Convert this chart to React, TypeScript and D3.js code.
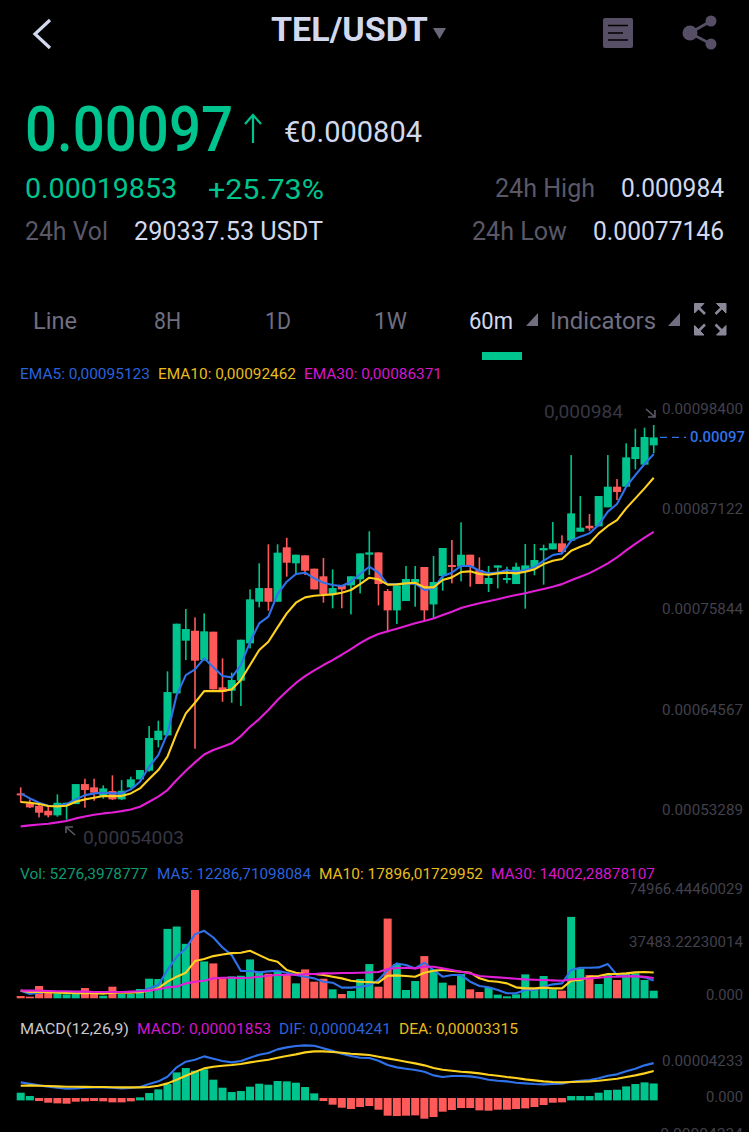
import React from "react";
import * as d3 from "d3";

// All prices in units of 1e-6 USDT
const opens = [
  569.6,558.4,555.7,550.1,544.9,556.5,557.6,580.1,576.4,565.9,
  572.2,562.9,576.4,585.4,595.1,629.6,634.9,682.1,741.4,752.6,
  719.6,751.5,688.9,685.1,696.4,738.4,785.2,800.6,785.2,846.4,
  828.4,837.4,822.4,813.8,793.9,804,803.6,810.4,838.1,840.7,
  797.3,775.5,786,806.6,824.3,782.2,814.1,826.5,824.6,838.1,
  820.9,805.1,823.5,809.6,805.1,820.9,823.9,843,844.1,850.9,
  853.9,864,870.7,870,891.4,914.6,914.6,945.7,939.4,961.1];
const closes = [
  567.4,553.9,547.9,544.9,559.1,559.1,580.1,573.4,570.4,575.2,
  562.9,572.6,585.4,595.9,631.9,640.1,683.6,760.5,754.5,718.9,
  751.9,686.6,683.6,697.1,742.5,787.9,800.6,785.2,840.4,829.1,
  838.1,820.1,799.1,793.9,800.6,799.1,813.8,839.6,840.7,805.1,
  775.5,803.6,810.8,810.8,775.5,807.4,845.6,824.3,838.1,824.6,
  805.1,811.9,826.1,811.9,824.6,826.1,832.1,845.6,850.9,841.1,
  884.6,868.5,867.7,904.1,914.6,908.6,947.6,959.2,970.5,970];
const highs = [
  576.4,562.9,558.4,554.6,568.5,559.1,580.1,586.1,586.1,578.6,
  589.9,584.6,588.4,595.9,645.4,651.4,706.9,760.5,777,767.6,
  772.1,751.5,721.5,705.4,742.5,799.1,828.4,849.8,849.8,857.2,
  838.1,837.4,822.4,834.4,821.6,804,813.8,839.6,864.4,840.7,
  799.5,803.6,825.4,825.4,824.3,836.6,845.6,854.6,874.5,838.1,
  835.1,825.4,826.1,824.6,829.1,850.1,850.1,849.4,874.9,859.9,
  950.2,904.1,883.9,904.1,950.2,923.2,963.4,979.9,981,984];
const lows = [
  559.1,553.1,542.6,542.6,543.4,540.03,557.6,553.5,561.4,563.6,
  562.1,562.1,575.2,585.4,594,621.4,634.1,682.1,719.6,619.9,
  718.9,686.6,672.7,671.6,667.9,732.7,778.9,775.1,785.2,813.4,
  815.2,815.2,799.1,784.1,777.8,777.8,771,794.6,815.2,781.1,
  750.7,760.1,786,779.6,762.7,766.9,797.6,805.9,808.1,802.1,
  805.1,796.1,800.2,805.9,805.1,777.4,814.9,804.4,844.1,839.6,
  852.7,864,865.1,870,891.4,899.6,914.6,934.1,939.4,952.1];
const ema5 = [
  569.6,564,559.1,555.7,555.4,557.6,562.9,567.7,569.6,570.4,
  569.6,569.6,574.1,582.7,599.6,612.7,637.1,680.2,702.7,709.1,
  721.5,711.4,701.6,700.1,714,740,760.9,768.4,793.9,807.7,
  816.4,817.9,811.5,806.6,804,802.9,807.7,816.4,824.6,817.9,
  804.7,805.1,805.5,805.9,798.4,800.2,814.1,817.9,825.4,825.4,
  820.1,817.1,817.9,820.9,819,820.9,823.9,831.4,837.7,839.6,
  853.9,858.4,862.1,871.5,886.5,895.1,914.6,927.7,940.1,951.23];
const ema10 = [
  559.9,559.1,557.6,555.4,555,555.7,560.2,562.9,564.7,566.6,
  566.6,566.6,569.6,575.2,585.7,595.9,610.9,637.1,659.6,671.6,
  684.7,684.7,684.7,686.6,697.1,714,730.9,740.2,756.4,772.1,
  784.1,790.1,792,792.7,793.5,795.4,798.4,805.1,812.2,810.4,
  804.4,804.7,805.9,806.6,801.4,801.4,809.6,812.6,818.6,819.4,
  816.4,815.6,817.1,817.9,817.1,819,821.6,827.6,831.4,833.2,
  842.6,847.1,850.9,862.1,870.4,877.1,890.2,901.5,912.7,924.62];
const ema30 = [
  532.5,533.6,534.7,535.5,537,538.5,541.5,543.7,545.6,547.1,
  548.2,549.7,551.6,554.6,560.2,565.9,573.4,584.6,595.1,604.5,
  613.4,618.4,622.1,625.9,634.1,644.6,653.2,663.4,674.6,684.4,
  693.9,701.5,708,714,719.6,725.6,732,738.7,744.4,748.9,
  752,754.8,757.9,760.9,763.6,766.4,770.2,774,778.2,781,
  783.5,785.8,788,790.5,792.7,794.8,797.2,799.6,802.1,805,
  809.3,813.4,817.4,822.7,828.4,835,843,850.4,857.2,863.71];

const volumes = [
  1610,1150,8510,5290,3450,2760,2990,7130,2990,1840,
  8050,2990,2990,6440,13570,13340,48070,49680,37720,74966,
  25530,24150,13800,15180,15640,26910,18400,17020,18860,16100,
  10350,20010,11500,13570,6210,2990,5060,13340,23690,8050,
  55200,23690,5750,11960,29210,20010,10810,8970,16790,6210,
  4370,7590,2530,1380,2760,16560,6210,15410,6210,5290,
  56350,20700,16100,9890,16100,12650,17250,17250,12650,5276];
const volMa5 = [
  5290,2990,3910,4600,4370,4140,3450,3910,4140,4140,
  4370,4370,4370,4600,6900,9200,19550,28750,34500,44390,
  46690,42090,35190,29900,18860,18860,17940,18630,19090,17710,
  16100,14950,13800,11500,10810,7360,7360,8050,8970,12650,
  19550,24150,23000,20700,24610,19550,14950,16100,16100,11500,
  8510,7590,5750,3450,3450,5750,5750,8050,9660,10350,
  19550,21160,21160,21390,23690,16100,15410,15410,14490,12286.71];
const volMa10 = [
  5290,4370,4370,4140,3910,3680,3450,3450,3450,3220,
  3910,3910,3910,4140,5290,6900,11500,14950,17710,25760,
  27140,29210,30360,31280,31510,32890,29900,26910,25300,19550,
  17710,16790,16790,16100,14950,13800,12190,11500,11270,10810,
  15640,15870,15410,14950,17710,19090,19550,18860,18400,17710,
  13800,11960,11500,10350,7590,6900,6900,7360,6900,6900,
  12190,12650,14950,15410,16790,16790,17250,17940,18170,17896.02];
const volMa30 = [
  5290,5290,5290,5060,4830,4830,4600,4600,4370,4370,
  4370,4370,4600,4830,5290,6210,7590,8050,10350,11500,
  12190,13800,14260,14260,14030,14260,14950,15640,16100,16330,
  16330,16790,16790,17250,17250,17480,17480,17710,17940,18170,
  20240,20930,21160,20700,21850,21850,20700,19550,18400,17250,
  15410,14950,14490,14030,13570,13110,12880,12650,12420,12190,
  13110,13570,13800,14260,14950,14950,15180,15180,14950,14002.29];

// MACD figures in units of 1e-8
const macdBars = [
  764,372,-216,-412,-490,-529,-294,-255,-216,-255,
  -372,-372,-255,216,725,1156,1784,3156,3665,3352,
  3508,2293,1352,843,960,1470,1823,1705,2136,2097,
  1940,1431,686,-216,-647,-1000,-1156,-921,-804,-1235,
  -1940,-1980,-1940,-1901,-2293,-2097,-1470,-1274,-1039,-1039,
  -1313,-1352,-1235,-1235,-1156,-1078,-921,-686,-412,-372,
  372,372,372,764,1078,1117,1509,1784,1980,1853];
const dif = [
  1980,1823,1627,1470,1352,1235,1274,1352,1392,1392,
  1352,1274,1313,1431,1784,2097,2646,3744,4410,4645,
  5037,4763,4488,4332,4488,4880,5233,5429,5860,6096,
  6252,6331,6292,5978,5704,5351,5076,4880,4841,4528,
  4018,3744,3587,3430,3234,2803,2607,2724,2724,2685,
  2528,2293,2176,2097,1940,1862,1784,1744,1784,1823,
  2058,2176,2254,2450,2764,2920,3273,3587,3979,4241];
const dea = [
  1588,1627,1588,1548,1509,1470,1470,1450,1431,1431,
  1411,1392,1392,1392,1431,1588,1862,2293,2764,3195,
  3626,3822,3940,4018,4136,4332,4488,4645,4880,5076,
  5272,5508,5625,5625,5547,5468,5351,5272,5194,4998,
  4802,4606,4410,4214,3979,3665,3469,3352,3234,3156,
  3038,2881,2764,2607,2489,2332,2215,2097,2019,1980,
  2019,2058,2097,2176,2293,2411,2607,2803,3038,3315];

const priceTicks = ["0.00098400", "0.00087122", "0.00075844", "0.00064567", "0.00053289"];
const priceTickYs = [408, 508, 608, 709, 809];
const volTicks = ["74966.44460029", "37483.22230014", "0.000"];
const volTickYs = [888, 941, 994];
const macdTicks = ["0.00004233", "0.000", "-0.00004234"];
const macdTickYs = [1060, 1096, 1133];
const tabs = ["Line", "8H", "1D", "1W"];
const tabXs: [number, number][] = [[33, 44], [154, 27], [265, 26], [374, 33]];

const GREEN = "#00c48e";
const RED = "#ff5a5a";
const BLUE = "#2f72ea";
const YELLOW = "#ffd21f";
const MAGENTA = "#e21fd6";
const AXIS = "#42414c";
const LIGHT = "#d2d9ee";
const DIM = "#5a5867";
const FONT = "Roboto, 'Noto Sans', sans-serif";

const x = d3.scaleLinear().domain([0, 69]).range([20.7, 653.7]);
const yPrice = d3.scaleLinear().domain([540.03, 984]).range([819.7, 425]);
const yVol = d3.scaleLinear().domain([0, 74966]).range([998.3, 890]);
const yMacd = d3.scaleLinear().domain([0, 4233]).range([1099.2, 1063.2]);

const pathOf = (vals: number[], y: d3.ScaleLinear<number, number>) =>
  d3.line<number>().x((_, i) => x(i)).y((v) => y(v))(vals) as string;

function T({ x: tx, y, w, size, fill, weight = 400, anchor = "start", children }: any) {
  return (
    <text x={tx} y={y} fontSize={size} fill={fill} fontWeight={weight} textAnchor={anchor}
      fontFamily={FONT} textLength={w} lengthAdjust={w ? "spacingAndGlyphs" : undefined}>
      {children}
    </text>
  );
}

function Line({ d, color, width = 2.1 }: { d: string; color: string; width?: number }) {
  return <path d={d} fill="none" stroke={color} strokeWidth={width} strokeLinejoin="round" />;
}

export default function App() {
  const bodyW = 8;
  return (
    <svg width={749} height={1132} viewBox="0 0 749 1132"
      style={{ position: "fixed", left: 0, top: 0, display: "block", background: "#000" }}>
      <rect width={749} height={1132} fill="#000" />

      {/* Header */}
      <path d="M50 20 L35 34 L50 48" fill="none" stroke={LIGHT} strokeWidth={3.2} />
      <T x={271} y={41} w={157} size={34} fill={LIGHT} weight={700}>TEL/USDT</T>
      <path d="M433 28 H446 L439.5 39 Z" fill="#6a6878" />
      <rect x={603} y={18} width={30} height={30} rx={2} fill="#574f66" />
      <path d="M608 25.5 H628 M608 33 H623 M608 40 H628" stroke="#000" strokeWidth={1.6} />
      <path d="M690 33 L711 21 M690 33 L711 44" stroke="#574f66" strokeWidth={2.6} />
      <circle cx={690} cy={33} r={7.5} fill="#574f66" />
      <circle cx={711} cy={21} r={5.5} fill="#574f66" />
      <circle cx={711} cy={44} r={5.5} fill="#574f66" />

      {/* Price summary */}
      <T x={25} y={151} w={208} size={63} fill={GREEN} weight={500}>0.00097</T>
      <path d="M253 143 V116 M245 124 L253 115 L261 124" fill="none" stroke={GREEN} strokeWidth={2.2} />
      <T x={284} y={142} w={138} size={29} fill={LIGHT}>€0.000804</T>
      <T x={25} y={198} w={152} size={28} fill={GREEN}>0.00019853</T>
      <T x={208} y={199} w={116} size={28} fill={GREEN}>+25.73%</T>
      <T x={495} y={197} w={100} size={26} fill={DIM}>24h High</T>
      <T x={621} y={197} w={103} size={26} fill={LIGHT}>0.000984</T>
      <T x={25} y={240} w={83} size={26} fill={DIM}>24h Vol</T>
      <T x={134} y={240} w={189} size={26} fill={LIGHT}>290337.53 USDT</T>
      <T x={472} y={240} w={95} size={26} fill={DIM}>24h Low</T>
      <T x={593} y={240} w={131} size={26} fill={LIGHT}>0.00077146</T>

      {/* Tabs */}
      {tabs.map((t, i) => (
        <T key={t} x={tabXs[i][0]} y={329} w={tabXs[i][1]} size={24} fill="#706e80">{t}</T>
      ))}
      <T x={469} y={329} w={44} size={24} fill={LIGHT}>60m</T>
      <path d="M526 326 H538 V313 Z" fill="#706e80" />
      <T x={550} y={329} w={106} size={24} fill="#706e80">Indicators</T>
      <path d="M668 326 H680 V313 Z" fill="#706e80" />
      <rect x={482} y={352} width={40} height={8} fill={GREEN} />
      <g stroke="#8a8898" fill="#8a8898">
        <path d="M694.5 303.5 H704 L694.5 313 Z M726 303.5 H716.5 L726 313 Z M694.5 335 H704 L694.5 325.5 Z M726 335 H716.5 L726 325.5 Z" strokeWidth={1} />
        <path d="M697 306 L705 314 M723.5 306 L715.5 314 M697 332.5 L705 324.5 M723.5 332.5 L715.5 324.5" strokeWidth={2.6} />
      </g>

      {/* Legend: EMA */}
      <T x={20} y={379} w={130} size={15} fill="#2a62dc">EMA5: 0,00095123</T>
      <T x={158} y={379} w={138} size={15} fill="#e8bc1c">EMA10: 0,00092462</T>
      <T x={304} y={379} w={138} size={15} fill="#d416cc">EMA30: 0,00086371</T>

      {/* Price axis */}
      {priceTicks.map((t, i) => (
        <T key={t} x={662} y={priceTickYs[i] + 5.5} w={81} size={15.5} fill={AXIS}>{t}</T>
      ))}
      <path d={`M660 ${yPrice(970)} H686`} stroke={BLUE} strokeWidth={1.2} strokeDasharray="7 5" />
      <T x={690} y={441.5} w={55} size={15} fill={BLUE} weight={500}>0.00097</T>

      {/* Candles */}
      {opens.map((o, i) => {
        const c = closes[i];
        const up = c >= o;
        const col = up ? GREEN : RED;
        const top = yPrice(Math.max(o, c));
        const h = Math.max(1.6, yPrice(Math.min(o, c)) - top);
        return (
          <g key={i} fill={col}>
            <rect x={x(i) - 0.8} y={yPrice(highs[i])} width={1.6} height={yPrice(lows[i]) - yPrice(highs[i])} />
            <rect x={x(i) - bodyW / 2} y={top} width={bodyW} height={h} />
          </g>
        );
      })}
      <Line d={pathOf(ema5, yPrice)} color={BLUE} />
      <Line d={pathOf(ema10, yPrice)} color={YELLOW} />
      <Line d={pathOf(ema30, yPrice)} color={MAGENTA} />

      {/* High / low annotations */}
      <T x={544} y={418} w={79} size={19} fill="#373642">0,000984</T>
      <path d="M646 409 L655 417 M655 410 V417 H648" fill="none" stroke="#5a5966" strokeWidth={1.6} />
      <T x={83} y={844} w={101} size={19} fill="#373642">0,00054003</T>
      <path d="M75 835 L66 827 M66 833 V827 H73" fill="none" stroke="#5a5966" strokeWidth={1.6} />

      {/* Volume */}
      <T x={20} y={879} w={128} size={15} fill="#0e9a70">Vol: 5276,3978777</T>
      <T x={157} y={879} w={154} size={15} fill="#2a62dc">MA5: 12286,71098084</T>
      <T x={319} y={879} w={164} size={15} fill="#e8bc1c">MA10: 17896,01729952</T>
      <T x={491} y={879} w={164} size={15} fill="#d416cc">MA30: 14002,28878107</T>
      {volTicks.map((t, i) => (
        <T key={t} x={743} y={volTickYs[i] + 5.5} size={15.5} fill={AXIS} anchor="end"
          w={t.length > 6 ? 114 : 37}>{t}</T>
      ))}
      {volumes.map((v, i) => (
        <rect key={i} x={x(i) - bodyW / 2} y={yVol(v)} width={bodyW} height={yVol(0) - yVol(v)}
          fill={closes[i] >= opens[i] ? GREEN : RED} />
      ))}
      <Line d={pathOf(volMa5, yVol)} color={BLUE} />
      <Line d={pathOf(volMa10, yVol)} color={YELLOW} />
      <Line d={pathOf(volMa30, yVol)} color={MAGENTA} />

      {/* MACD */}
      <T x={20} y={1034} w={109} size={15} fill="#c8c8cc">MACD(12,26,9)</T>
      <T x={137} y={1034} w={134} size={15} fill="#d416cc">MACD: 0,00001853</T>
      <T x={279} y={1034} w={112} size={15} fill="#2a62dc">DIF: 0,00004241</T>
      <T x={399} y={1034} w={119} size={15} fill="#e8bc1c">DEA: 0,00003315</T>
      {macdTicks.map((t, i) => (
        <T key={t} x={743} y={macdTickYs[i] + 5.5} size={15.5} fill={AXIS} anchor="end"
          w={t === "0.000" ? 37 : t.startsWith("-") ? 87 : 81}>{t}</T>
      ))}
      {macdBars.map((v, i) => {
        const y0 = yMacd(0);
        const yv = yMacd(v);
        return v >= 0 ? (
          <rect key={i} x={x(i) - bodyW / 2} y={yv} width={bodyW} height={y0 + 1.2 - yv} fill={GREEN} />
        ) : (
          <rect key={i} x={x(i) - bodyW / 2} y={y0 - 1.2} width={bodyW} height={yv - y0 + 1.2} fill={RED} />
        );
      })}
      <Line d={pathOf(dif, yMacd)} color={BLUE} />
      <Line d={pathOf(dea, yMacd)} color={YELLOW} />
    </svg>
  );
}
